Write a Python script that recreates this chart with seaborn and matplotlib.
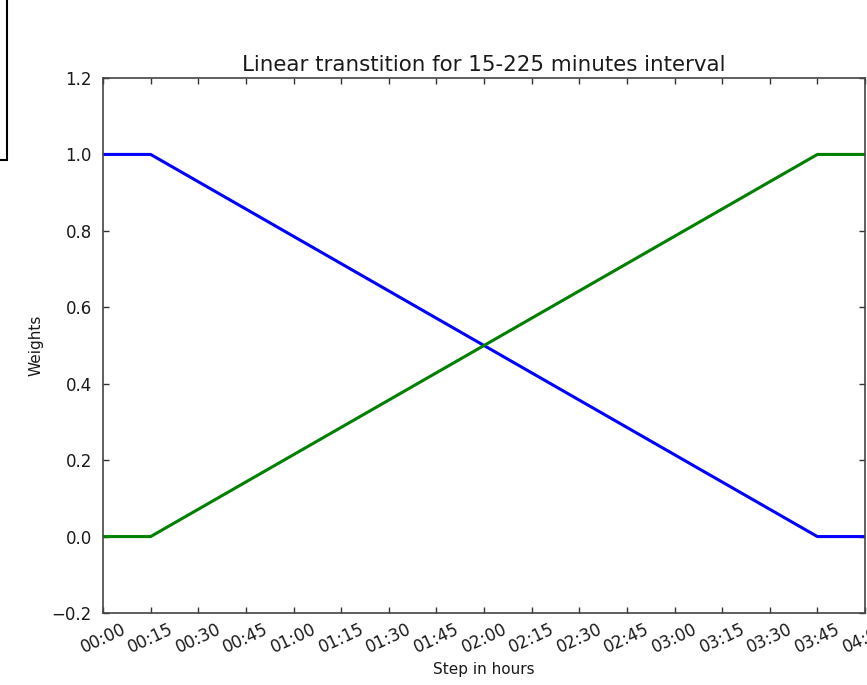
import numpy as np
import pandas as pd
import matplotlib
matplotlib.use("Agg")
import matplotlib.pyplot as plt
import seaborn as sns
from matplotlib.patches import Rectangle

sns.set_style("ticks")
plt.rcParams["font.family"] = ["DejaVu Sans"]

# knots of the transition, minutes since start
minutes = [0, 15, 225, 240]
w_old = [1.0, 1.0, 0.0, 0.0]
w_new = [0.0, 0.0, 1.0, 1.0]
tick_minutes = list(range(0, 241, 15))
tick_labels = ["%02d:%02d" % (m // 60, m % 60) for m in tick_minutes]

df = pd.DataFrame({"minutes": minutes, "old": w_old, "new": w_new})

fig = plt.figure(figsize=(8.67, 6.85), dpi=100)
ax = fig.add_axes([103 / 867, 1 - 613 / 685, 762 / 867, 535 / 685])

sns.lineplot(data=df, x="minutes", y="old", ax=ax, color="#0000ff", lw=2.2)
sns.lineplot(data=df, x="minutes", y="new", ax=ax, color="#008000", lw=2.2)

ax.set_xlim(0, 240)
ax.set_ylim(-0.2, 1.2)
ax.set_yticks(np.arange(-0.2, 1.21, 0.2))
ax.set_yticklabels(["\u22120.2", "0.0", "0.2", "0.4", "0.6", "0.8", "1.0", "1.2"])
ax.set_xticks(tick_minutes)
ax.set_xticklabels(tick_labels, rotation=25, ha="center")
ax.tick_params(direction="in", length=4.5, width=1, top=True, right=True,
               labelsize=12, color="#333333", labelcolor="#1a1a1a")
ax.tick_params(axis="y", pad=8)
ax.tick_params(axis="x", pad=5)
for s in ax.spines.values():
    s.set_visible(True)
    s.set_color("#444444")
    s.set_linewidth(1.2)

ax.set_title("Linear transtition for 15-225 minutes interval", fontsize=15.4, color="#1a1a1a", pad=5)
ax.set_xlabel("Step in hours", fontsize=11, color="#1a1a1a", labelpad=4)
ax.set_ylabel("Weights", fontsize=11, color="#1a1a1a", labelpad=6)

# legend box cut off at the left edge of the image
fig.patches.append(Rectangle((-50 / 867, 1 - 160 / 685), 57 / 867, 200 / 685,
                             transform=fig.transFigure, fill=False,
                             edgecolor="black", lw=1.5, clip_on=False))

fig.savefig("out.png", dpi=100)
